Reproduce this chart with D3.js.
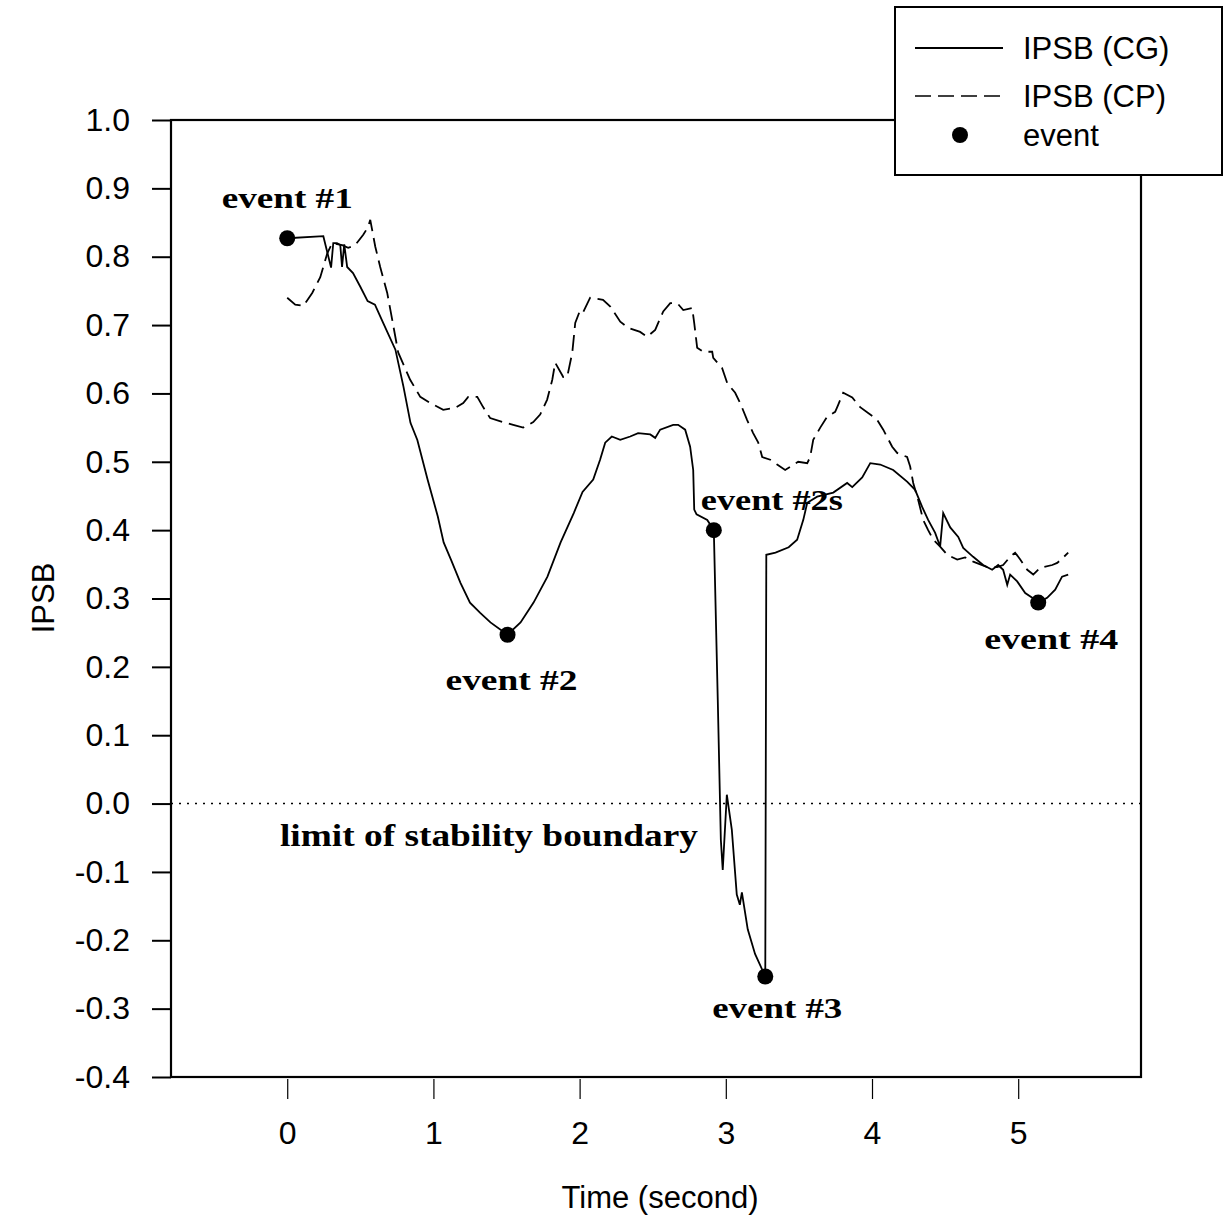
<!DOCTYPE html>
<html>
<head>
<meta charset="utf-8">
<script src="https://cdn.jsdelivr.net/npm/d3@7"></script>
<style>
  html, body { margin: 0; padding: 0; background: #fff; }
  svg { display: block; }
</style>
</head>
<body>
<svg id="chart" width="1224" height="1221"></svg>
<script>
// ---- data ----
const cgTime = [0,0.247,0.30,0.315,0.34,0.363,0.375,0.39,0.41,0.45,0.5,0.55,0.6,0.657,0.74,0.795,0.843,0.89,0.96,1.03,1.07,1.12,1.185,1.25,1.32,1.39,1.507,1.596,1.685,1.78,1.87,1.96,2.02,2.093,2.14,2.175,2.22,2.278,2.346,2.40,2.483,2.517,2.551,2.64,2.674,2.722,2.756,2.777,2.784,2.80,2.873,2.918,2.945,2.966,2.979,3.007,3.041,3.075,3.096,3.11,3.15,3.20,3.27,3.277,3.34,3.43,3.488,3.53,3.557,3.625,3.735,3.83,3.865,3.933,3.988,4.056,4.145,4.24,4.295,4.343,4.384,4.432,4.466,4.487,4.535,4.59,4.624,4.692,4.76,4.822,4.863,4.897,4.925,4.945,4.993,5.048,5.096,5.137,5.198,5.253,5.30,5.342];
const cgValue = [0.827,0.830,0.784,0.820,0.820,0.817,0.785,0.818,0.785,0.776,0.756,0.735,0.730,0.703,0.664,0.61,0.557,0.532,0.474,0.42,0.382,0.357,0.323,0.294,0.279,0.265,0.247,0.265,0.294,0.332,0.382,0.425,0.456,0.474,0.503,0.528,0.537,0.532,0.537,0.542,0.54,0.535,0.547,0.554,0.554,0.547,0.522,0.488,0.43,0.423,0.415,0.40,0.152,-0.053,-0.097,0.013,-0.038,-0.133,-0.148,-0.13,-0.184,-0.22,-0.253,0.364,0.367,0.375,0.386,0.415,0.44,0.449,0.455,0.469,0.463,0.477,0.498,0.496,0.488,0.471,0.459,0.434,0.415,0.396,0.376,0.425,0.404,0.39,0.374,0.361,0.349,0.342,0.349,0.342,0.32,0.335,0.325,0.308,0.301,0.294,0.301,0.313,0.332,0.335];

const cpTime = [0,0.055,0.11,0.171,0.226,0.274,0.308,0.376,0.417,0.465,0.52,0.554,0.568,0.602,0.636,0.684,0.718,0.759,0.82,0.841,0.91,0.978,1.067,1.149,1.204,1.238,1.30,1.34,1.388,1.477,1.546,1.614,1.683,1.73,1.778,1.813,1.833,1.888,1.915,1.95,1.97,2.004,2.025,2.072,2.16,2.21,2.278,2.332,2.414,2.462,2.517,2.572,2.62,2.668,2.709,2.77,2.784,2.804,2.845,2.907,2.914,2.975,3.01,3.064,3.098,3.146,3.187,3.222,3.249,3.304,3.351,3.406,3.495,3.557,3.577,3.598,3.646,3.693,3.748,3.768,3.803,3.865,3.919,4.008,4.036,4.077,4.138,4.172,4.24,4.261,4.282,4.316,4.35,4.384,4.419,4.466,4.514,4.583,4.637,4.692,4.788,4.856,4.897,4.945,4.979,5.014,5.062,5.103,5.15,5.233,5.267,5.308,5.342];
const cpValue = [0.74,0.73,0.728,0.747,0.77,0.805,0.82,0.817,0.813,0.817,0.832,0.844,0.854,0.815,0.785,0.747,0.708,0.66,0.63,0.62,0.595,0.586,0.576,0.579,0.586,0.595,0.595,0.58,0.564,0.558,0.554,0.55,0.558,0.569,0.591,0.62,0.645,0.624,0.624,0.66,0.703,0.722,0.719,0.74,0.737,0.727,0.705,0.696,0.69,0.683,0.693,0.72,0.732,0.732,0.722,0.725,0.703,0.667,0.661,0.661,0.652,0.637,0.615,0.601,0.586,0.561,0.542,0.528,0.507,0.503,0.496,0.488,0.5,0.498,0.507,0.532,0.55,0.566,0.573,0.583,0.601,0.594,0.58,0.566,0.561,0.547,0.522,0.513,0.507,0.493,0.469,0.444,0.415,0.40,0.386,0.376,0.364,0.357,0.36,0.354,0.346,0.346,0.349,0.361,0.367,0.357,0.342,0.335,0.345,0.349,0.352,0.36,0.367];

const eventNames = ["event #1","event #2","event #2s","event #3","event #4"];
const eventTime  = [0, 1.507, 2.918, 3.27, 5.137];
const eventValue = [0.827, 0.247, 0.40, -0.253, 0.294];

const xTicks = [0,1,2,3,4,5];
const yTicks = [-0.4,-0.3,-0.2,-0.1,0.0,0.1,0.2,0.3,0.4,0.5,0.6,0.7,0.8,0.9,1.0];
const legendLabels = ["IPSB (CG)","IPSB (CP)","event"];
const boundaryLabel = "limit of stability boundary";
const xTitle = "Time (second)";
const yTitle = "IPSB";

// ---- layout ----
const svg = d3.select("#chart");
const L = 171, R = 1141, T = 120, B = 1077;
const x = d3.scaleLinear().domain([-0.795, 5.84]).range([L, R]);
const y = d3.scaleLinear().domain([-0.4, 1.0]).range([B, T]);
const sans = "Arial, 'Liberation Sans', Helvetica, sans-serif";
const serif = "'Times New Roman', 'Liberation Serif', serif";

// frame
svg.append("rect").attr("x", L).attr("y", T).attr("width", R - L).attr("height", B - T)
  .attr("fill", "none").attr("stroke", "#000").attr("stroke-width", 2.2);

// y axis
const yAxis = d3.axisLeft(y).tickValues(yTicks).tickSize(19).tickPadding(22)
  .tickFormat(d => d3.format(".1f")(d).replace("\u2212", "-"));
const gy = svg.append("g").attr("transform", `translate(${L},0)`).call(yAxis);
gy.select(".domain").remove();
gy.selectAll(".tick line").attr("stroke-width", 2);
gy.selectAll(".tick text").attr("font-family", sans).attr("font-size", 32).attr("fill", "#000");

// x axis
const xAxis = d3.axisBottom(x).tickValues(xTicks).tickFormat(d3.format("d")).tickSize(20).tickPadding(22);
const gx = svg.append("g").attr("transform", `translate(0,${B + 2})`).call(xAxis);
gx.select(".domain").remove();
gx.selectAll(".tick line").attr("stroke-width", 1.2);
gx.selectAll(".tick text").attr("font-family", sans).attr("font-size", 32).attr("fill", "#000");

// axis titles
svg.append("text").attr("x", 660).attr("y", 1208).attr("text-anchor", "middle")
  .attr("font-family", sans).attr("font-size", 31).text(xTitle);
svg.append("text").attr("transform", "translate(54,598) rotate(-90)").attr("text-anchor", "middle")
  .attr("font-family", sans).attr("font-size", 31).text(yTitle);

// zero boundary dotted
svg.append("line").attr("x1", L).attr("x2", R).attr("y1", y(0)).attr("y2", y(0))
  .attr("stroke", "#000").attr("stroke-width", 1.5).attr("stroke-dasharray", "2,6");
svg.append("text").attr("x", 280).attr("y", y(0) + 42)
  .attr("font-family", serif).attr("font-weight", "bold").attr("font-size", 32)
  .attr("textLength", 418).attr("lengthAdjust", "spacingAndGlyphs").text(boundaryLabel);

// lines
const line = d3.line().x(d => x(d[0])).y(d => y(d[1]));
const cp = cpTime.map((t, i) => [t, cpValue[i]]);
const cg = cgTime.map((t, i) => [t, cgValue[i]]);
svg.append("path").datum(cp).attr("d", line).attr("fill", "none").attr("stroke", "#000")
  .attr("stroke-width", 1.8).attr("stroke-dasharray", "16,7");
svg.append("path").datum(cg).attr("d", line).attr("fill", "none").attr("stroke", "#000")
  .attr("stroke-width", 1.8);

// events
svg.selectAll("circle.ev").data(eventTime).enter().append("circle").attr("class", "ev")
  .attr("cx", d => x(d)).attr("cy", (d, i) => y(eventValue[i])).attr("r", 8).attr("fill", "#000");

const labelOffsets = [[0, -30, "middle", 131], [4, 55, "middle", 132], [-13, -20, "start", 142], [12, 41, "middle", 130], [13, 46, "middle", 134]];
svg.selectAll("text.evl").data(eventNames).enter().append("text").attr("class", "evl")
  .attr("x", (d, i) => x(eventTime[i]) + labelOffsets[i][0])
  .attr("y", (d, i) => y(eventValue[i]) + labelOffsets[i][1])
  .attr("text-anchor", (d, i) => labelOffsets[i][2])
  .attr("textLength", (d, i) => labelOffsets[i][3]).attr("lengthAdjust", "spacingAndGlyphs")
  .attr("font-family", serif).attr("font-weight", "bold").attr("font-size", 30).text(d => d);

// legend
const lg = svg.append("g");
lg.append("rect").attr("x", 895).attr("y", 7).attr("width", 327).attr("height", 168)
  .attr("fill", "#fff").attr("stroke", "#000").attr("stroke-width", 2);
const rowY = [48, 96, 135];
lg.append("line").attr("x1", 915).attr("x2", 1003).attr("y1", rowY[0]).attr("y2", rowY[0])
  .attr("stroke", "#000").attr("stroke-width", 1.8);
lg.append("line").attr("x1", 915).attr("x2", 1003).attr("y1", rowY[1]).attr("y2", rowY[1])
  .attr("stroke", "#000").attr("stroke-width", 1.5).attr("stroke-dasharray", "16,7");
lg.append("circle").attr("cx", 960).attr("cy", rowY[2]).attr("r", 8).attr("fill", "#000");
lg.selectAll("text.lgt").data(legendLabels).enter().append("text").attr("class", "lgt")
  .attr("x", 1023).attr("y", (d, i) => rowY[i] + 11)
  .attr("font-family", sans).attr("font-size", 31).text(d => d);
</script>
</body>
</html>
